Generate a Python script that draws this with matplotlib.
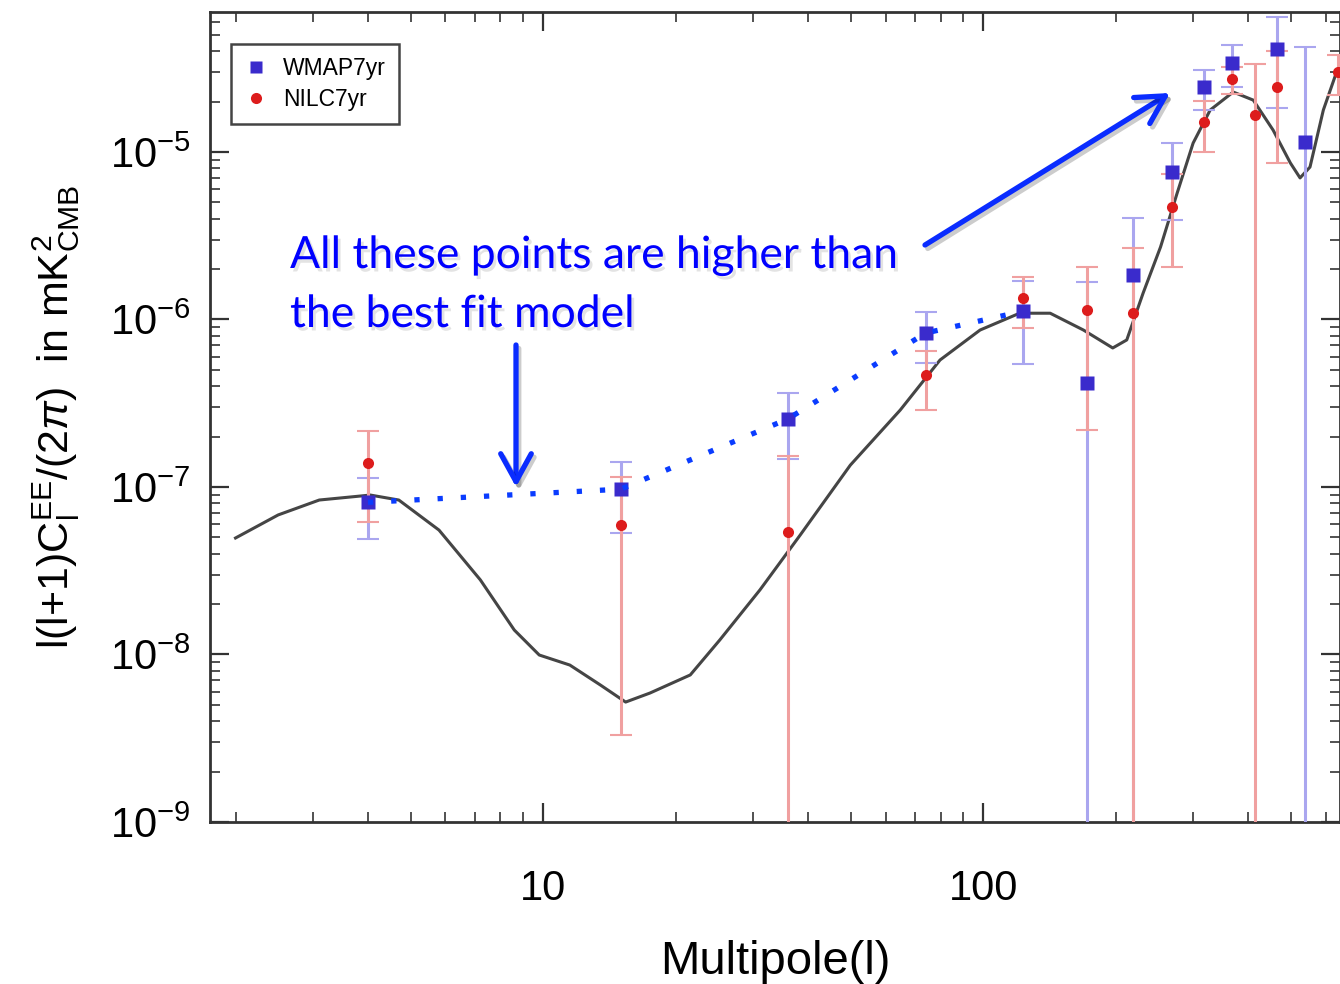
import numpy as np
import matplotlib.pyplot as plt
import matplotlib.patheffects as pe
from matplotlib.ticker import LogLocator, NullFormatter, FuncFormatter, FixedLocator
from matplotlib.lines import Line2D
from matplotlib.patches import FancyArrowPatch

plt.rcParams.update({
    'font.family': 'Liberation Sans',
    'mathtext.fontset': 'custom',
    'mathtext.rm': 'Liberation Sans',
    'mathtext.it': 'Liberation Sans:italic',
    'mathtext.bf': 'Liberation Sans:bold',
})

# best-fit EE model curve
model_ell = [2.0, 2.5, 3.1, 4.05, 4.7, 5.8, 7.2, 8.6, 9.8, 11.5, 13.5, 15.4, 17.5,
             21.6, 25.2, 31.1, 38.4, 49.9, 64.8, 79.8, 98.4, 121, 142, 169, 197,
             212, 231, 253, 276, 300, 328, 370, 411, 456, 499, 525, 553, 593,
             638, 665]
model_cl = [4.96e-8, 6.81e-8, 8.36e-8, 8.95e-8, 8.36e-8, 5.53e-8, 2.79e-8,
            1.40e-8, 9.93e-9, 8.65e-9, 6.57e-9, 5.20e-9, 5.89e-9, 7.55e-9,
            1.22e-8, 2.43e-8, 5.17e-8, 1.35e-7, 2.88e-7, 5.73e-7, 8.65e-7,
            1.09e-6, 1.09e-6, 8.65e-7, 6.76e-7, 7.55e-7, 1.44e-6, 2.71e-6,
            5.69e-6, 1.13e-5, 1.78e-5, 2.28e-5, 2.04e-5, 1.35e-5, 8.6e-6,
            7.0e-6, 8.13e-6, 1.78e-5, 3.09e-5, 3.8e-5]

# WMAP 7-year binned EE
wmap_ell = [4, 15, 36, 74, 123, 172, 219, 269, 318, 368, 466, 540]
wmap_cl = [8.1e-8, 9.7e-8, 2.55e-7, 8.3e-7, 1.12e-6, 4.2e-7, 1.85e-6, 7.6e-6,
           2.44e-5, 3.40e-5, 4.12e-5, 1.15e-5]
wmap_err = [3.2e-8, 4.4e-8, 1.09e-7, 2.8e-7, 5.8e-7, 1.25e-6, 2.2e-6, 3.7e-6,
            6.5e-6, 9.6e-6, 2.3e-5, 3.1e-5]

# NILC 7-year binned EE
nilc_ell = [4, 15, 36, 74, 123, 172, 219, 269, 318, 368, 415, 466, 641]
nilc_cl = [1.39e-7, 5.93e-8, 5.38e-8, 4.66e-7, 1.34e-6, 1.14e-6, 1.09e-6,
           4.7e-6, 1.51e-5, 2.73e-5, 1.66e-5, 2.44e-5, 3.0e-5]
nilc_err = [7.7e-8, 5.6e-8, 1.0e-7, 1.78e-7, 4.5e-7, 9.2e-7, 1.6e-6, 2.64e-6,
            5.1e-6, 5.0e-6, 1.7e-5, 1.58e-5, 8.0e-6]

x_major = [10, 100]
y_major = [1e-9, 1e-8, 1e-7, 1e-6, 1e-5]

W, H = 1340, 984
fig = plt.figure(figsize=(W / 100, H / 100), dpi=100)
ax = fig.add_axes([210 / W, 1 - 822 / H, 1 - 210 / W, (822 - 12) / H])
ax.set_xscale('log')
ax.set_yscale('log', nonpositive='clip')
ax.set_xlim(1.75, 647)
ax.set_ylim(1e-9, 6.85e-5)

ax.plot(model_ell, model_cl, color='#454545', lw=2.2, zorder=2)

ax.errorbar(wmap_ell, wmap_cl, yerr=wmap_err, fmt='none', ecolor='#aaa6ef',
            elinewidth=2.2, capsize=8, capthick=1.5, zorder=3)
ax.errorbar(nilc_ell, nilc_cl, yerr=nilc_err, fmt='none', ecolor='#f0a0a0',
            elinewidth=2.2, capsize=8, capthick=1.5, zorder=3)
ax.plot(nilc_ell, nilc_cl, 'o', color='#dd1c1c', ms=8, mec='none', zorder=4)
ax.plot(wmap_ell, wmap_cl, 's', color='#3a2bcc', ms=10, mec='none', zorder=5)

# dotted guide through the low-l WMAP points
ax.plot(wmap_ell[:5], wmap_cl[:5], color='#0a3cff', lw=3.8,
        linestyle=(0, (1, 3.4)), dash_capstyle='butt', zorder=6)

ax.tick_params(which='both', direction='in', top=True, right=True,
               color='#333333')
ax.tick_params(which='major', length=14, width=1.6, labelsize=30)
ax.tick_params(which='minor', length=7, width=1.2)
ax.tick_params(axis='x', pad=34)
ax.tick_params(axis='y', pad=14)
ax.xaxis.set_major_locator(FixedLocator(x_major))
ax.xaxis.set_major_formatter(FuncFormatter(lambda v, p: f'{v:g}'))
ax.xaxis.set_minor_formatter(NullFormatter())
ax.yaxis.set_major_locator(FixedLocator(y_major))
ax.yaxis.set_major_formatter(
    FuncFormatter(lambda v, p: r'$\mathregular{10^{%d}}$' % round(np.log10(v))))
ax.yaxis.set_minor_locator(LogLocator(base=10, subs=np.arange(2, 10), numticks=20))
ax.yaxis.set_minor_formatter(NullFormatter())
for s in ax.spines.values():
    s.set_linewidth(2)
    s.set_color('#333333')

ax.set_xlabel('Multipole(l)', fontsize=34, labelpad=22)
ax.set_ylabel(r'l(l+1)C$_\mathregular{l}^\mathregular{EE}$/(2$\pi$)  in mK$^\mathregular{2}_\mathregular{CMB}$',
              fontsize=31, labelpad=20)

handles = [Line2D([], [], marker='s', ls='none', color='#3a2bcc', ms=9, mec='none'),
           Line2D([], [], marker='o', ls='none', color='#dd1c1c', ms=8, mec='none')]
leg = ax.legend(handles, ['WMAP7yr', 'NILC7yr'], loc='upper left',
                bbox_to_anchor=(0.019, 0.96), borderaxespad=0, fontsize=16.5,
                fancybox=False, framealpha=1, handlelength=1.0,
                handletextpad=0.7, borderpad=0.55, labelspacing=0.35)
leg.get_frame().set_edgecolor('#444444')
leg.get_frame().set_linewidth(1.8)

# callout text and arrows
shadow = [pe.withSimplePatchShadow(offset=(2, -2.5), shadow_rgbFace='#808080', alpha=0.22)]
fig.text(290 / W, 1 - 268 / H, 'All these points are higher than', color='#0000ff',
         fontsize=32, family='Lato', va='baseline', path_effects=shadow)
fig.text(290 / W, 1 - 327 / H, 'the best fit model', color='#0000ff',
         fontsize=32, family='Lato', va='baseline', path_effects=shadow)

arrow_fx = [pe.SimpleLineShadow(offset=(2, -2.5), alpha=0.2), pe.Normal()]
for (x0, y0), (x1, y1) in [((516, 345), (516, 487)), ((925, 245), (1170, 93))]:
    fig.add_artist(FancyArrowPatch((x0 / W, 1 - y0 / H), (x1 / W, 1 - y1 / H),
                                   transform=fig.transFigure,
                                   arrowstyle='->,head_length=1.0,head_width=0.55',
                                   mutation_scale=20, lw=3.8, color='#0a2cff',
                                   shrinkA=0, shrinkB=0, path_effects=arrow_fx))

fig.savefig('out.png', dpi=100)
